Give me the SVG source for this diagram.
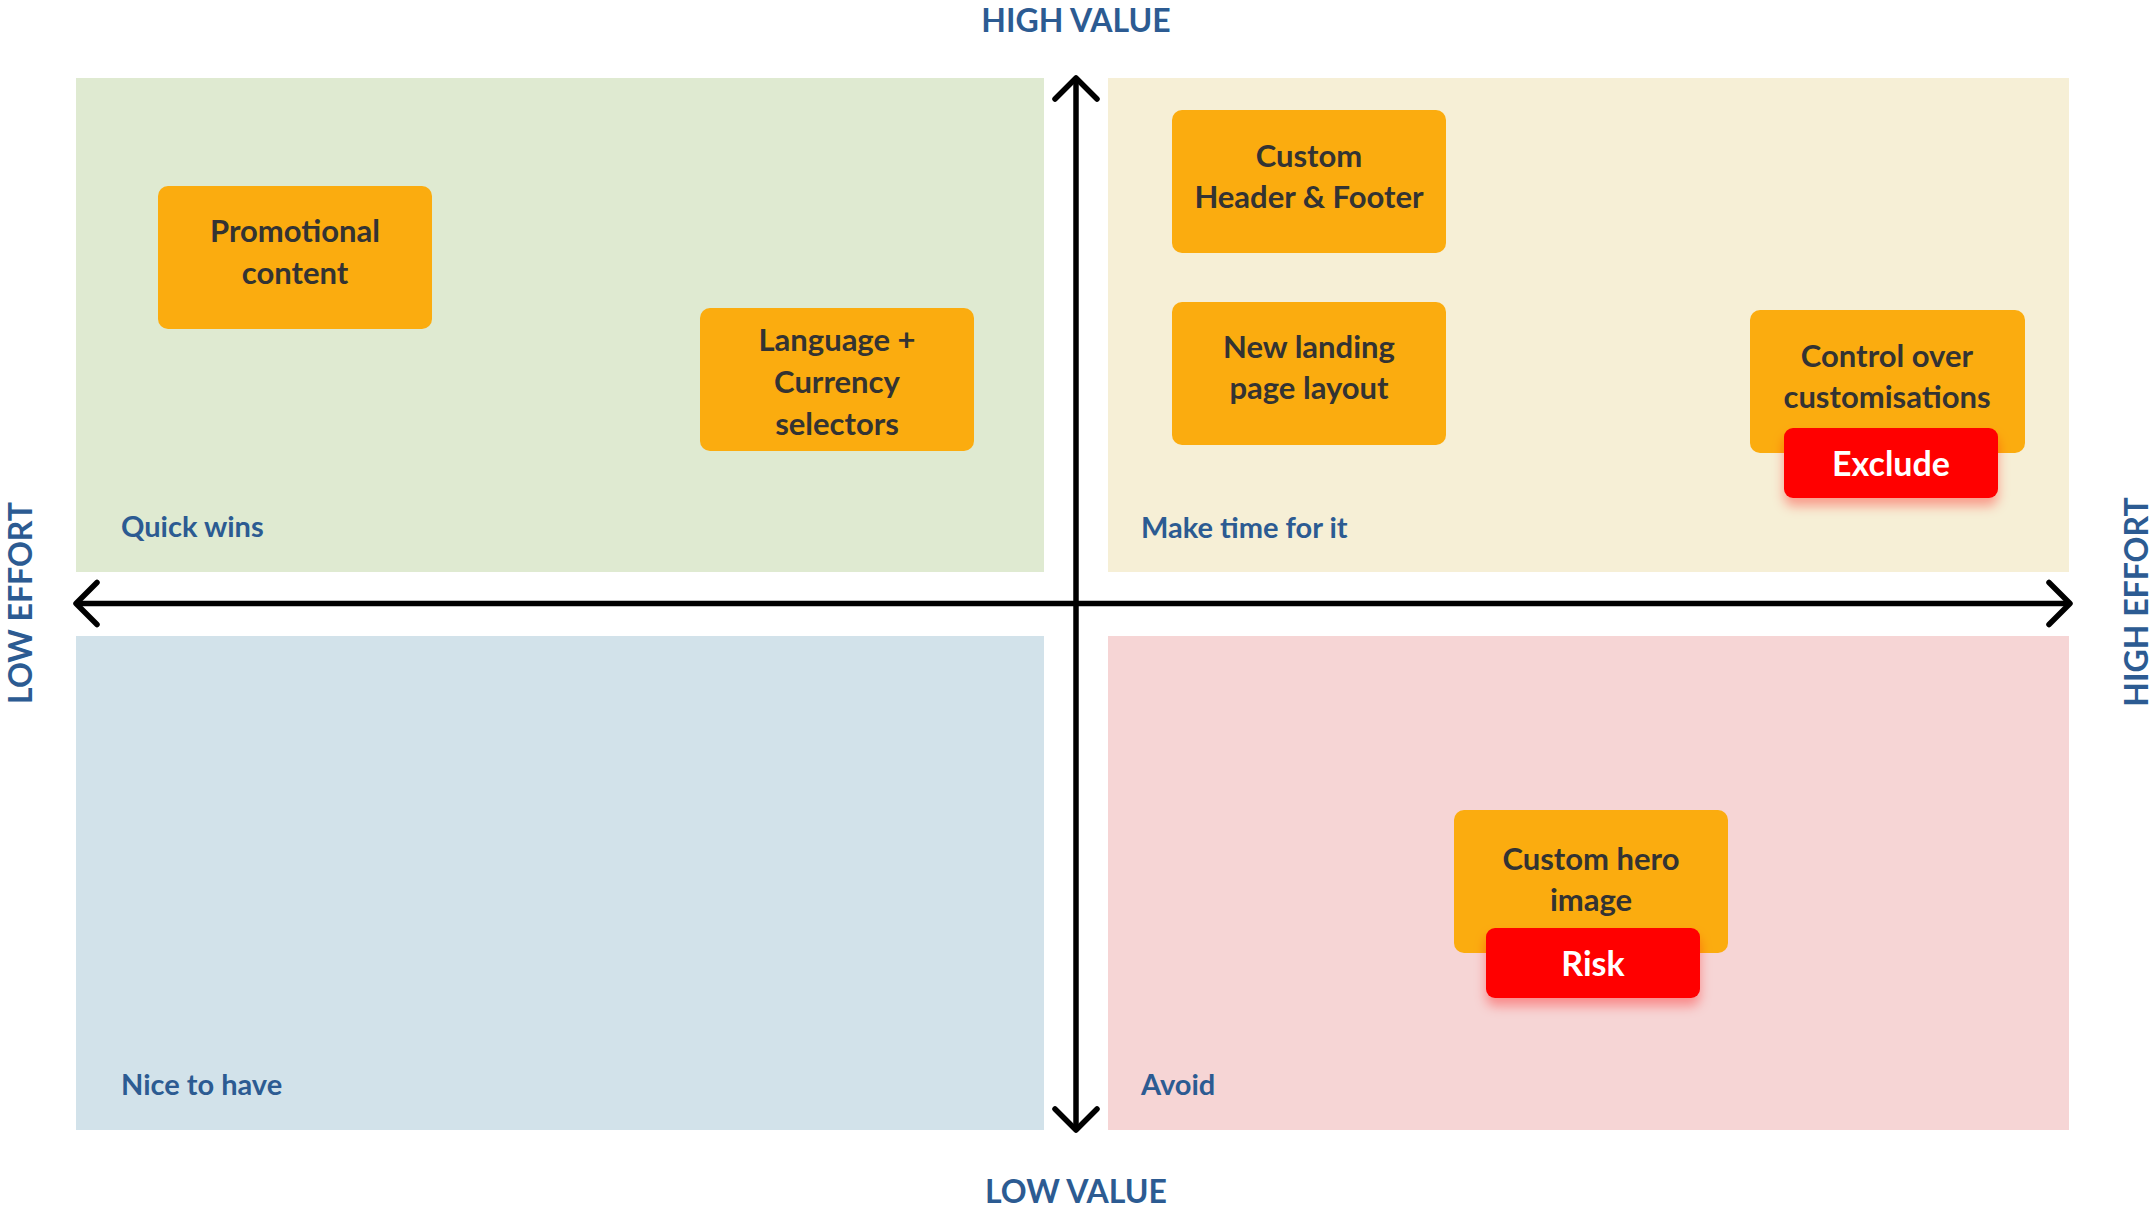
<svg xmlns="http://www.w3.org/2000/svg" width="2155" height="1209" viewBox="0 0 2155 1209">
  <style>
    .quad { stroke: none; }
    .card { fill: #fbac0f; }
    .tag { fill: #ff0000; filter: url(#redShadow); }
    .cardText { font-family: Lato, "Open Sans", "Liberation Sans", sans-serif; font-weight: 700; font-size: 31px; fill: #333333; text-anchor: middle; }
    .tagText { font-family: Lato, "Open Sans", "Liberation Sans", sans-serif; font-weight: 700; font-size: 34px; fill: #ffffff; text-anchor: middle; }
    .quadLabel { font-family: Lato, "Open Sans", "Liberation Sans", sans-serif; font-weight: 700; font-size: 29px; fill: #2c5b92; }
    .axisLabel { font-family: Lato, "Open Sans", "Liberation Sans", sans-serif; font-weight: 700; font-size: 32px; fill: #2c5b92; text-anchor: middle; }
    .axis { stroke: #000000; stroke-width: 5.5; fill: none; }
  </style>
  <defs>
    <filter id="redShadow" x="-20%" y="-30%" width="140%" height="180%">
      <feDropShadow dx="0" dy="8" stdDeviation="6" flood-color="#ff0000" flood-opacity="0.35"/>
    </filter>
    <marker id="chev" viewBox="-30 -30 60 60" markerWidth="60" markerHeight="60" refX="0" refY="0" markerUnits="userSpaceOnUse" orient="auto-start-reverse" overflow="visible">
      <path d="M-21,-21 L0,0 L-21,21" stroke="#000000" stroke-width="5.5" fill="none" stroke-linecap="round" stroke-linejoin="round"/>
    </marker>
  </defs>

  <rect width="2155" height="1209" fill="#ffffff"/>

  <g id="quadrants">
    <g id="quick-wins">
      <rect class="quad" x="76" y="78" width="968" height="494" fill="#dfead1"/>
      <text class="quadLabel" x="121" y="537">Quick wins</text>
    </g>
    <g id="make-time">
      <rect class="quad" x="1108" y="78" width="961" height="494" fill="#f6efd6"/>
      <text class="quadLabel" x="1141" y="538">Make time for it</text>
    </g>
    <g id="nice-to-have">
      <rect class="quad" x="76" y="636" width="968" height="494" fill="#d2e2ea"/>
      <text class="quadLabel" x="121" y="1095">Nice to have</text>
    </g>
    <g id="avoid">
      <rect class="quad" x="1108" y="636" width="961" height="494" fill="#f6d5d5"/>
      <text class="quadLabel" x="1141" y="1095">Avoid</text>
    </g>
  </g>

  <g id="connectors">
    <line class="axis" x1="1076" y1="1130" x2="1076" y2="78" marker-start="url(#chev)" marker-end="url(#chev)"/>
    <line class="axis" x1="76" y1="603.5" x2="2070" y2="603.5" marker-start="url(#chev)" marker-end="url(#chev)"/>
  </g>

  <g id="axis-labels">
    <text id="high-value" class="axisLabel" x="1076" y="32">HIGH VALUE</text>
    <text id="low-value" class="axisLabel" x="1076" y="1203">LOW VALUE</text>
    <text id="low-effort" class="axisLabel" transform="translate(32,603) rotate(-90)" x="0" y="0">LOW EFFORT</text>
    <text id="high-effort" class="axisLabel" transform="translate(2148,602) rotate(-90)" x="0" y="0">HIGH EFFORT</text>
  </g>

  <g id="promotional-content">
    <rect class="card" x="158" y="186" width="274" height="143" rx="10"/>
    <text class="cardText" x="295" y="242">Promotional</text>
    <text class="cardText" x="295" y="284">content</text>
  </g>

  <g id="language-currency">
    <rect class="card" x="700" y="308" width="274" height="143" rx="10"/>
    <text class="cardText" x="837" y="351">Language +</text>
    <text class="cardText" x="837" y="393">Currency</text>
    <text class="cardText" x="837" y="435">selectors</text>
  </g>

  <g id="custom-header-footer">
    <rect class="card" x="1172" y="110" width="274" height="143" rx="10"/>
    <text class="cardText" x="1309" y="167">Custom</text>
    <text class="cardText" x="1309" y="208">Header &amp; Footer</text>
  </g>

  <g id="new-landing-page">
    <rect class="card" x="1172" y="302" width="274" height="143" rx="10"/>
    <text class="cardText" x="1309" y="358">New landing</text>
    <text class="cardText" x="1309" y="399">page layout</text>
  </g>

  <g id="control-customisations">
    <rect class="card" x="1750" y="310" width="275" height="143" rx="10"/>
    <text class="cardText" x="1887" y="366.5">Control over</text>
    <text class="cardText" x="1887" y="408">customisations</text>
  </g>

  <g id="exclude-tag">
    <rect class="tag" x="1784" y="428" width="214" height="70" rx="9"/>
    <text class="tagText" x="1891" y="476">Exclude</text>
  </g>

  <g id="custom-hero-image">
    <rect class="card" x="1454" y="810" width="274" height="143" rx="10"/>
    <text class="cardText" x="1591" y="870">Custom hero</text>
    <text class="cardText" x="1591" y="911">image</text>
  </g>

  <g id="risk-tag">
    <rect class="tag" x="1486" y="928" width="214" height="70" rx="9"/>
    <text class="tagText" x="1593" y="976">Risk</text>
  </g>
</svg>
